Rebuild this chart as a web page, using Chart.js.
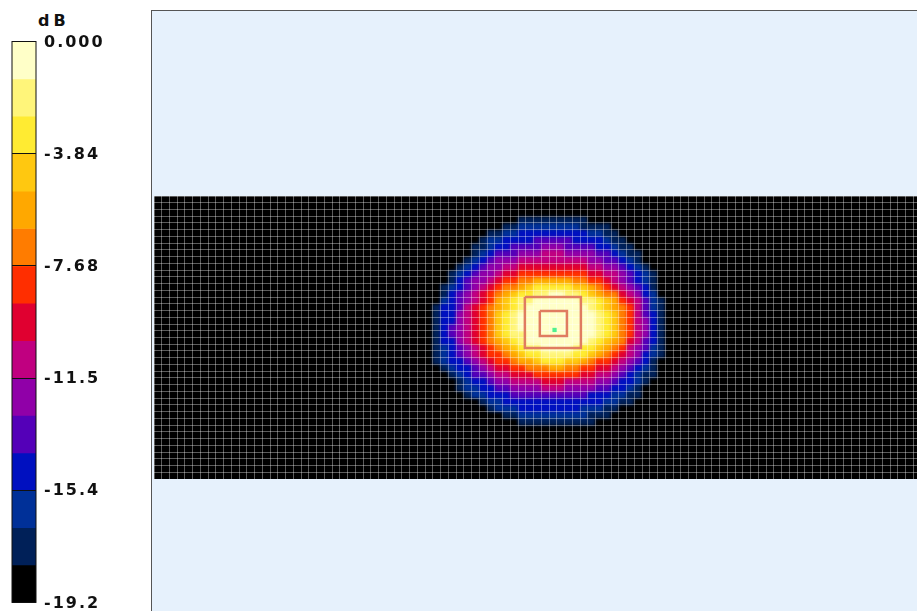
<!DOCTYPE html>
<html>
<head>
<meta charset="utf-8">
<title>dB map</title>
<script src="https://cdn.jsdelivr.net/npm/chart.js@4"></script>
<style>
  html, body { margin: 0; width: 917px; height: 611px; overflow: hidden; background: #fff; }
  canvas { position: absolute; }
  #scaleChart { left: 0; top: 20px; filter: blur(0.35px); }
  #panel { position: absolute; left: 151px; top: 10px; width: 766px; height: 601px; background: #e6f1fc;
           border-left: 1px solid #555; border-top: 1px solid #555; }
  #heatBox { position: absolute; left: 154px; top: 196px; width: 763px; height: 283px; background: #000; overflow: hidden; }
  #heatChart { left: 0; top: 0; filter: blur(1.6px); }
  #gridChart { left: 0; top: 0; filter: blur(0.7px); }
  #unit { position: absolute; left: 38px; top: 11px; font: bold 16px "DejaVu Sans"; letter-spacing: 4px; color: #111; }
</style>
</head>
<body>
<div id="panel"></div>
<div id="unit">dB</div>
<canvas id="scaleChart" width="110" height="600"></canvas>
<div id="heatBox">
  <canvas id="heatChart" width="767" height="283"></canvas>
  <canvas id="gridChart" width="767" height="283"></canvas>
</div>
<script>
// Colour bar bands, top (0 dB) to bottom (-19.2 dB)
const bandColors = [
  "#ffffc8", "#fff57a", "#ffeb32", "#ffc810", "#ffa800",
  "#ff7c00", "#ff2e00", "#e00030", "#c00080", "#9000a8",
  "#5400b8", "#0010c0", "#003098", "#002058", "#000000",
];
const bandStep = -1.28;
const tickValues = [0, -3.84, -7.68, -11.52, -15.36, -19.2];
const tickLabels = ["0.000", "-3.84", "-7.68", "-11.5", "-15.4", "-19.2"];

// Grid size of the map, in cells
const colCount = 99;
const rowCount = 42;
const floorLevel = 14;

// Band index per cell around the hot spot.
// First entry is column 35 of row 3, every cell outside this block is floorLevel.
const firstCol = 35;
const firstRow = 3;
const heatRows = [
  [14,14,14,14,14,14,14,14,14,14,14,14,13,13,13,13,13,13,13,13,13,14,14,14,14,14,14,14,14,14,14],
  [14,14,14,14,14,14,14,14,14,14,13,13,12,12,12,12,12,12,12,12,13,13,13,13,14,14,14,14,14,14,14],
  [14,14,14,14,14,14,14,14,13,13,12,12,11,11,11,11,11,11,11,11,11,12,12,13,13,14,14,14,14,14,14],
  [14,14,14,14,14,14,14,13,12,12,11,11,11,11,10,10,10,10,10,11,11,11,11,12,13,13,14,14,14,14,14],
  [14,14,14,14,14,14,13,13,12,11,11,10,10,10,10,9,9,9,10,10,10,10,11,11,12,13,13,14,14,14,14],
  [14,14,14,14,14,14,13,12,11,10,10,10,9,9,9,8,8,8,9,9,9,9,10,10,11,12,13,13,14,14,14],
  [14,14,14,14,14,13,12,11,10,9,9,9,8,8,8,8,8,8,8,8,8,9,9,10,10,11,12,13,14,14,14],
  [14,14,14,14,13,12,11,10,9,9,8,8,7,7,7,7,7,7,7,7,7,8,8,9,9,10,11,12,13,14,14],
  [14,14,14,13,12,11,10,9,9,8,7,7,6,6,6,6,6,6,6,6,6,7,7,8,8,9,10,11,12,13,14],
  [14,14,14,13,11,10,9,9,8,7,6,6,5,5,4,4,4,4,4,5,5,6,6,7,8,9,10,11,12,13,14],
  [14,14,13,12,11,10,9,8,7,6,5,5,4,3,2,2,2,2,2,3,3,4,5,6,7,8,9,10,11,13,14],
  [14,14,13,11,10,9,8,7,6,5,4,3,2,2,1,1,0,0,1,1,2,3,4,5,5,7,8,9,11,12,14],
  [14,14,12,11,10,9,8,7,6,4,3,2,1,1,0,0,0,0,0,0,1,1,2,3,4,6,7,8,10,12,13],
  [14,13,11,11,10,8,7,6,5,4,3,2,1,0,0,0,0,0,0,0,0,1,2,3,4,5,6,8,10,12,13],
  [14,13,11,11,9,8,7,6,5,3,2,1,0,0,0,0,0,0,0,0,0,0,1,2,3,5,6,8,10,11,13],
  [14,13,11,11,9,8,7,6,5,3,2,1,0,0,0,0,0,0,0,0,0,0,1,2,3,5,6,8,9,11,13],
  [14,13,11,10,9,8,7,6,5,3,2,1,0,0,0,0,0,0,0,0,0,0,1,2,3,5,6,8,9,11,13],
  [14,13,11,10,9,8,7,6,5,3,2,1,1,0,0,0,0,0,0,0,0,0,1,2,3,5,6,8,9,11,13],
  [14,13,11,11,9,8,7,6,5,4,3,2,1,0,0,0,0,0,0,0,0,1,2,3,4,5,7,8,10,11,13],
  [14,13,12,11,10,9,8,7,6,5,4,3,2,1,1,0,0,0,0,1,2,2,3,4,5,6,8,9,10,12,13],
  [14,13,12,11,10,9,8,7,6,6,5,4,3,2,2,1,1,1,1,2,2,3,4,5,6,7,8,9,11,12,13],
  [14,13,12,11,11,10,9,8,7,6,6,5,4,4,3,2,2,2,3,3,4,5,6,6,7,8,9,10,11,13,14],
  [14,14,13,12,11,11,10,9,8,7,7,6,6,5,5,5,4,4,5,5,6,6,7,7,8,9,10,11,12,13,14],
  [14,14,14,13,12,11,10,10,9,8,8,7,7,7,6,6,6,6,6,6,7,7,8,8,9,10,11,12,13,13,14],
  [14,14,14,14,13,12,11,11,10,9,9,8,8,8,8,7,7,7,8,8,8,8,9,9,10,11,11,12,13,14,14],
  [14,14,14,14,13,12,12,11,11,10,10,9,9,9,9,8,8,8,9,9,9,9,10,10,11,11,12,13,14,14,14],
  [14,14,14,14,14,13,12,12,11,11,11,10,10,10,10,10,10,10,10,10,10,11,11,11,12,12,13,13,14,14,14],
  [14,14,14,14,14,14,14,13,12,12,11,11,11,11,11,11,11,11,11,11,11,11,11,12,12,13,13,14,14,14,14],
  [14,14,14,14,14,14,14,14,13,12,12,12,11,11,11,11,11,11,11,11,12,12,12,13,13,14,14,14,14,14,14],
  [14,14,14,14,14,14,14,14,14,14,13,13,12,12,12,12,12,12,12,12,12,13,13,13,14,14,14,14,14,14,14],
  [14,14,14,14,14,14,14,14,14,14,14,14,13,13,13,13,13,13,13,13,13,13,14,14,14,14,14,14,14,14,14],
];

// Measurement boxes and peak marker, in grid units (column, row)
const outerBox = [{ x: 47.87, y: 14.99 }, { x: 55.1, y: 14.99 }, { x: 55.1, y: 22.55 }, { x: 47.87, y: 22.55 }, { x: 47.87, y: 14.99 }];
const innerBox = [{ x: 49.8, y: 17.06 }, { x: 53.3, y: 17.06 }, { x: 53.3, y: 20.77 }, { x: 49.8, y: 20.77 }, { x: 49.8, y: 17.06 }];
const peakPoint = [{ x: 51.7, y: 19.88 }];

const boxColor = "#e07c60";
const peakColor = "#50f090";
const gridColor = "rgba(255,255,255,0.36)";

function levelAt(row, col) {
  const cells = heatRows[row - firstRow];
  if (!cells) return floorLevel;
  const level = cells[col - firstCol];
  return level === undefined ? floorLevel : level;
}

function drawScale() {
  const outline = {
    id: "barOutline",
    beforeDraw(chart) {
      chart.ctx.letterSpacing = "2px";
    },
    afterDraw(chart) {
      const { ctx, chartArea: a } = chart;
      ctx.save();
      ctx.strokeStyle = "#111";
      ctx.lineWidth = 1;
      ctx.strokeRect(a.left, a.top, a.right - a.left, a.bottom - a.top);
      ctx.restore();
    },
  };

  new Chart(document.getElementById("scaleChart"), {
    type: "bar",
    data: {
      labels: ["dB"],
      datasets: bandColors.map((color) => ({
        data: [bandStep],
        backgroundColor: color,
        barPercentage: 1,
        categoryPercentage: 1,
      })),
    },
    options: {
      responsive: false,
      animation: false,
      layout: { padding: { left: 12, top: 21.5, bottom: 14.5 } },
      plugins: { legend: { display: false }, tooltip: { enabled: false } },
      scales: {
        x: { stacked: true, display: false },
        y: {
          stacked: true,
          position: "right",
          min: -19.2,
          max: 0,
          afterBuildTicks: (scale) => {
            scale.ticks = tickValues.map((value) => ({ value }));
          },
          afterFit: (scale) => {
            scale.width = 74;
          },
          border: { display: false },
          grid: { color: "#111", z: 1, drawTicks: false },
          ticks: {
            padding: 8,
            labelOffset: 1,
            color: "#111",
            font: { family: "DejaVu Sans", weight: "bold", size: 16 },
            callback: (value, index) => tickLabels[index],
          },
        },
      },
    },
    plugins: [outline],
  });
}

function drawHeat() {
  const cols = [];
  for (let c = 0; c < colCount; c++) cols.push(c);

  // One stacked dataset per map row, one bar per column
  const datasets = [];
  for (let r = 0; r < rowCount; r++) {
    datasets.push({
      data: cols.map(() => 1),
      backgroundColor: cols.map((c) => bandColors[levelAt(r, c)]),
      grouped: false,
      barThickness: 8,
    });
  }

  new Chart(document.getElementById("heatChart"), {
    type: "bar",
    data: { labels: cols, datasets },
    options: {
      responsive: false,
      animation: false,
      plugins: { legend: { display: false }, tooltip: { enabled: false } },
      scales: {
        x: { stacked: true, display: false },
        y: { stacked: true, reverse: true, min: 0, max: rowCount, display: false },
      },
    },
  });
}

// Cell lines and the boxes sit on their own sharper layer over the map
function drawGrid() {
  const markLine = (points) => ({
    data: points,
    showLine: true,
    borderColor: boxColor,
    borderWidth: 2.5,
    pointRadius: 0,
    tension: 0,
  });
  const datasets = [
    markLine(outerBox),
    markLine(innerBox),
    {
      data: peakPoint,
      pointStyle: "rect",
      pointRadius: 3,
      backgroundColor: peakColor,
      borderWidth: 0,
    },
  ];

  new Chart(document.getElementById("gridChart"), {
    type: "scatter",
    data: { datasets },
    options: {
      responsive: false,
      animation: false,
      layout: { autoPadding: false },
      plugins: { legend: { display: false }, tooltip: { enabled: false } },
      scales: {
        x: {
          type: "linear",
          min: 0,
          max: colCount,
          border: { display: false },
          grid: { color: gridColor, drawTicks: false },
          ticks: { display: false, stepSize: 1 },
        },
        y: {
          type: "linear",
          reverse: true,
          min: 0,
          max: rowCount,
          border: { display: false },
          grid: { color: gridColor, drawTicks: false },
          ticks: { display: false, stepSize: 1 },
        },
      },
    },
  });
}

document.addEventListener("DOMContentLoaded", () => {
  drawScale();
  drawHeat();
  drawGrid();
});
</script>
</body>
</html>
